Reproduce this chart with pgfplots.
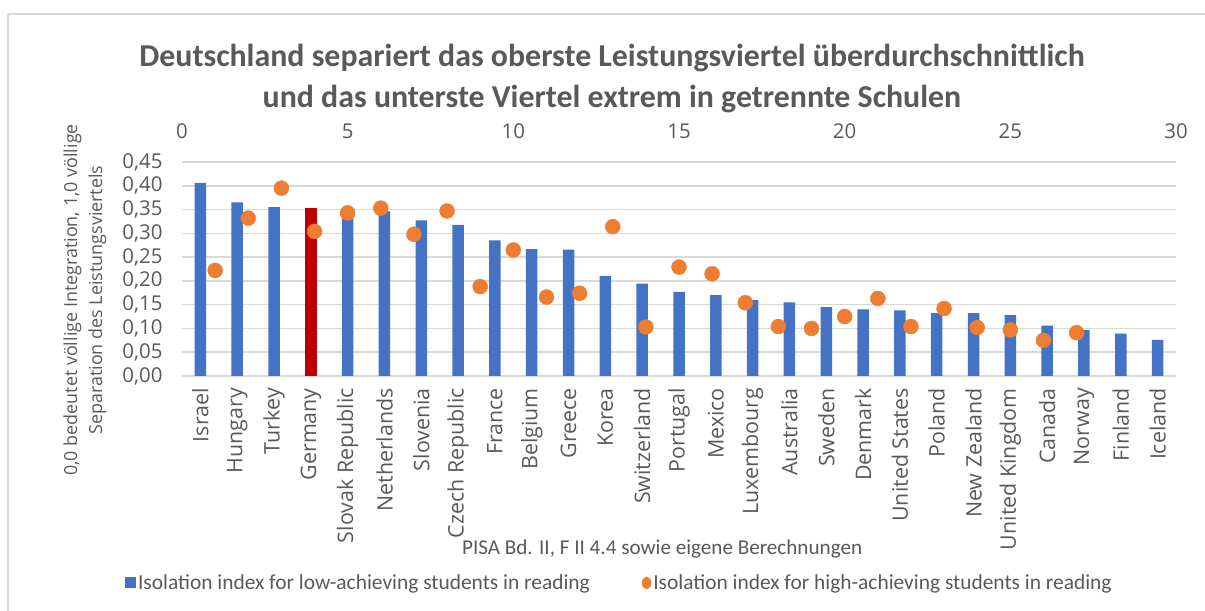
\documentclass[border=0pt]{standalone}
\usepackage{fontspec}
\setmainfont{Carlito}
\newfontfamily\osans{Open Sans}
\usepackage{pgfplots}
\usepackage{pgfplotstable}
\pgfplotsset{compat=1.18}

\definecolor{barblue}{HTML}{4472C4}
\definecolor{barred}{HTML}{C00000}
\definecolor{dotorange}{HTML}{ED7D31}
\definecolor{txtgray}{HTML}{595959}
\definecolor{gridgray}{HTML}{D9D9D9}

% low-achieving students, one bar per country (0 = Israel ... 26 = Iceland)
\pgfplotstableread{
idx low
0  0.406
1  0.365
2  0.355
3  0.353
4  0.340
5  0.346
6  0.327
7  0.318
8  0.285
9  0.267
10 0.266
11 0.210
12 0.194
13 0.177
14 0.170
15 0.160
16 0.155
17 0.145
18 0.140
19 0.138
20 0.132
21 0.132
22 0.128
23 0.106
24 0.097
25 0.089
26 0.076
}\lowtab

% high-achieving students, plotted on the secondary (top) axis 0..30
\pgfplotstableread{
x high
1  0.222
2  0.332
3  0.395
4  0.304
5  0.343
6  0.353
7  0.298
8  0.347
9  0.188
10 0.265
11 0.166
12 0.174
13 0.314
14 0.103
15 0.229
16 0.215
17 0.154
18 0.104
19 0.100
20 0.125
21 0.163
22 0.104
23 0.142
24 0.102
25 0.097
26 0.075
27 0.091
}\hightab

\begin{document}
\begin{tikzpicture}
  \clip (0bp,0bp) rectangle (1205bp,611bp);
  \draw[gridgray, line width=1.5bp] (8bp,-5bp) rectangle (1215bp,597bp);

  \begin{axis}[at={(182bp,235bp)}, anchor=south west,
    scale only axis, width=994bp, height=214bp,
    xmin=-0.5, xmax=26.5, ymin=0, ymax=0.45,
    axis x line*=bottom, axis y line*=left,
    axis line style={draw=none},
    major tick length=0pt,
    xtick={0,...,26},
    xticklabels={Israel, Hungary, Turkey, Germany, Slovak Republic,
      Netherlands, Slovenia, Czech Republic, France, Belgium, Greece, Korea,
      Switzerland, Portugal, Mexico, Luxembourg, Australia, Sweden, Denmark,
      United States, Poland, New Zealand, United Kingdom, Canada, Norway,
      Finland, Iceland},
    xticklabel style={rotate=90, anchor=east, inner sep=0pt, xshift=-12bp,
      font=\osans\fontsize{21.5}{25}\selectfont},
    ytick={0,0.05,0.1,0.15,0.2,0.25,0.3,0.35,0.4,0.45},
    yticklabel style={xshift=-16bp, font=\osans\fontsize{20.5}{24}\selectfont,
      /pgf/number format/fixed, /pgf/number format/fixed zerofill,
      /pgf/number format/precision=2, /pgf/number format/use comma,
      /pgf/number format/assume math mode=true},
    tick label style={text=txtgray},
    ymajorgrids, grid style={gridgray, line width=1.5bp},
    title={Deutschland separiert das oberste Leistungsviertel überdurchschnittlich\\und das unterste Viertel extrem in getrennte Schulen},
    title style={font=\bfseries\fontsize{32}{42}\selectfont, text=txtgray,
      align=center, at={(axis description cs:0.4326,1.362)}, anchor=center},
    xlabel={PISA Bd. II, F II 4.4 sowie eigene Berechnungen},
    xlabel style={font=\fontsize{21.2}{25}\selectfont, text=txtgray,
      at={(axis description cs:0.483,-0.808)}, anchor=center},
    ylabel={0,0 bedeutet völlige Integration, 1,0 völlige\\Separation des Leistungsviertels},
    ylabel style={font=\osans\fontsize{18}{25}\selectfont, text=txtgray, align=center,
      at={(axis description cs:-0.0976,0.355)}, anchor=center},
    legend columns=2,
    legend cell align=left,
    legend style={draw=none, fill=none, at={(0.44,-0.967)}, anchor=center,
      font=\fontsize{21.5}{25}\selectfont, text=txtgray,
      /tikz/every even column/.append style={column sep=50bp}},
    ]
    \addplot[ybar, bar width=11.5bp, bar shift=0pt, fill=barblue, draw=none,
      legend image code/.code={\fill[barblue] (0bp,-5.5bp) rectangle (11bp,5.5bp);}]
      table[x=idx, y=low] {\lowtab};
    \addlegendentry{Isolation index for low-achieving students in reading}
    \addplot[ybar, bar width=11.5bp, bar shift=0pt, fill=barred, draw=none, forget plot]
      coordinates {(3,0.353)};
    \addlegendimage{legend image code/.code={\fill[dotorange] (5bp,0bp) ellipse (4.5bp and 6bp);}}
    \addlegendentry{Isolation index for high-achieving students in reading}
  \end{axis}

  \begin{axis}[at={(182bp,235bp)}, anchor=south west,
    scale only axis, width=994bp, height=214bp,
    xmin=0, xmax=30, ymin=0, ymax=0.45,
    axis x line*=top, axis y line=none,
    axis line style={draw=none},
    major tick length=0pt,
    xtick={0,5,...,30},
    xticklabel style={yshift=20bp, /pgf/number format/assume math mode=true},
    tick label style={font=\osans\fontsize{20.5}{24}\selectfont, text=txtgray},
    ]
    \addplot[only marks, mark=*, mark size=7.5bp,
      mark options={fill=dotorange, draw=dotorange}]
      table[x=x, y=high] {\hightab};
  \end{axis}
\end{tikzpicture}
\end{document}
